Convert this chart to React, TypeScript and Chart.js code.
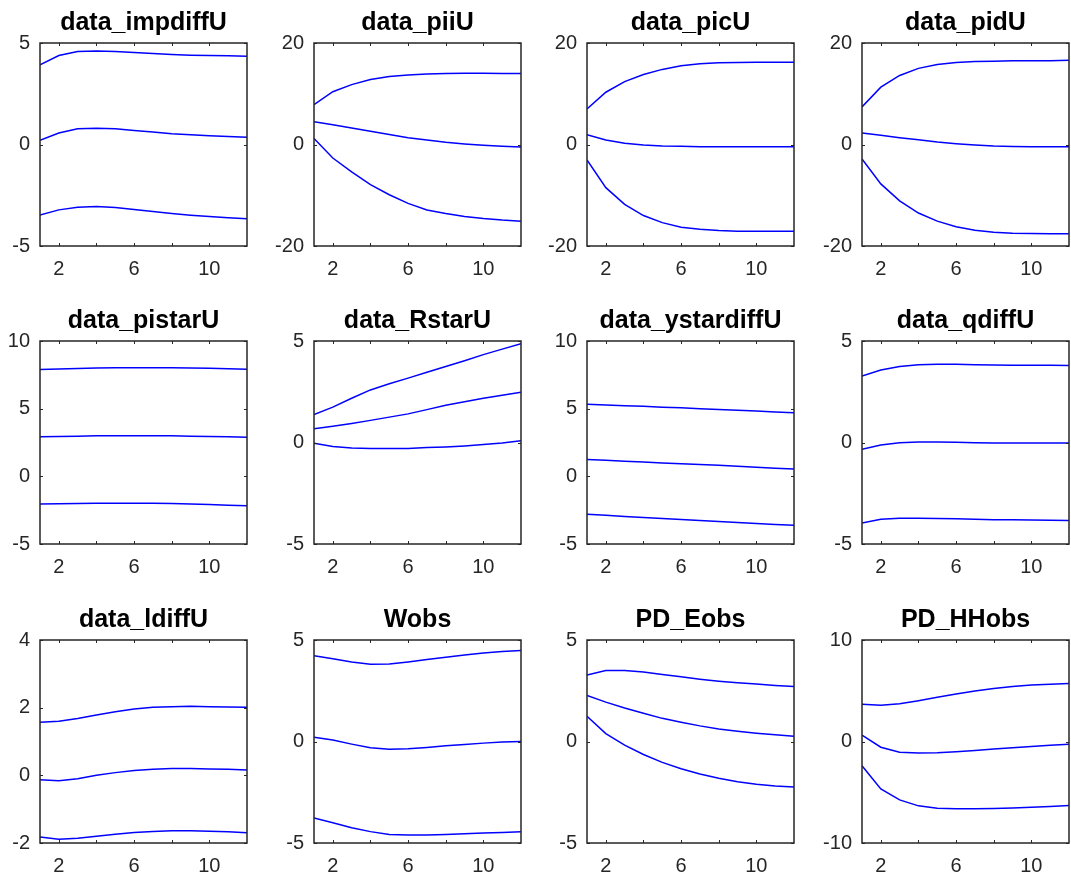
import React, { useEffect, useRef } from 'react';
import { Chart, registerables } from 'chart.js';

Chart.register(...registerables);

// ---------- data ----------
const steps = [1, 2, 3, 4, 5, 6, 7, 8, 9, 10, 11, 12];
const xTickValues = [2, 4, 6, 8, 10];
const xLabelValues = [2, 6, 10];

const titles = [
  'data_impdiffU', 'data_piiU', 'data_picU', 'data_pidU',
  'data_pistarU', 'data_RstarU', 'data_ystardiffU', 'data_qdiffU',
  'data_ldiffU', 'Wobs', 'PD_Eobs', 'PD_HHobs',
];
const yMins = [-5, -20, -20, -20, -5, -5, -5, -5, -2, -5, -5, -10];
const yMaxs = [5, 20, 20, 20, 10, 5, 10, 5, 4, 5, 5, 10];
const ySteps = [5, 20, 20, 20, 5, 5, 5, 5, 2, 5, 5, 10];

const impdiffUUpper = [3.92, 4.38, 4.58, 4.61, 4.58, 4.53, 4.48, 4.43, 4.40, 4.38, 4.37, 4.35];
const impdiffUMedian = [0.21, 0.57, 0.77, 0.80, 0.77, 0.69, 0.61, 0.53, 0.48, 0.43, 0.39, 0.36];
const impdiffULower = [-3.48, -3.22, -3.09, -3.05, -3.10, -3.20, -3.30, -3.40, -3.48, -3.55, -3.61, -3.66];

const piiUUpper = [7.86, 10.4, 11.8, 12.8, 13.4, 13.7, 13.9, 14.0, 14.05, 14.05, 14.0, 14.0];
const piiUMedian = [4.5, 3.9, 3.25, 2.6, 1.95, 1.35, 0.9, 0.43, 0.1, -0.16, -0.36, -0.5];
const piiULower = [1.2, -2.66, -5.4, -7.9, -9.9, -11.6, -12.9, -13.6, -14.2, -14.6, -14.9, -15.1];

const picUUpper = [7.0, 10.3, 12.4, 13.8, 14.8, 15.5, 15.9, 16.1, 16.15, 16.2, 16.2, 16.2];
const picUMedian = [1.94, 0.9, 0.23, -0.1, -0.3, -0.36, -0.42, -0.43, -0.43, -0.43, -0.43, -0.43];
const picULower = [-3.06, -8.5, -11.8, -14.0, -15.4, -16.3, -16.7, -16.95, -17.1, -17.1, -17.1, -17.1];

const pidUUpper = [7.4, 11.3, 13.6, 15.0, 15.75, 16.15, 16.35, 16.4, 16.5, 16.5, 16.5, 16.6];
const pidUMedian = [2.27, 1.8, 1.35, 0.95, 0.5, 0.16, -0.1, -0.3, -0.4, -0.43, -0.43, -0.43];
const pidULower = [-2.86, -7.76, -11.1, -13.5, -15.1, -16.2, -16.9, -17.3, -17.5, -17.55, -17.6, -17.6];

const pistarUUpper = [7.9, 7.94, 7.97, 8.0, 8.02, 8.03, 8.03, 8.02, 8.0, 7.98, 7.95, 7.92];
const pistarUMedian = [2.93, 2.95, 2.97, 2.99, 3.0, 3.0, 3.0, 2.99, 2.97, 2.95, 2.92, 2.88];
const pistarULower = [-2.05, -2.03, -2.01, -1.99, -1.98, -1.98, -1.99, -2.01, -2.04, -2.08, -2.13, -2.18];

const RstarUUpper = [1.38, 1.74, 2.18, 2.59, 2.89, 3.17, 3.46, 3.74, 4.03, 4.33, 4.6, 4.87];
const RstarUMedian = [0.68, 0.8, 0.94, 1.09, 1.25, 1.41, 1.62, 1.84, 2.01, 2.18, 2.33, 2.47];
const RstarULower = [-0.04, -0.2, -0.27, -0.3, -0.3, -0.29, -0.25, -0.22, -0.17, -0.1, -0.02, 0.09];

const ystardiffUUpper = [5.33, 5.28, 5.22, 5.17, 5.11, 5.06, 5.0, 4.94, 4.88, 4.82, 4.76, 4.69];
const ystardiffUMedian = [1.25, 1.19, 1.12, 1.06, 0.99, 0.93, 0.87, 0.81, 0.74, 0.67, 0.6, 0.54];
const ystardiffULower = [-2.81, -2.88, -2.96, -3.04, -3.11, -3.19, -3.26, -3.33, -3.41, -3.48, -3.55, -3.62];

const qdiffUUpper = [3.27, 3.57, 3.74, 3.83, 3.86, 3.85, 3.83, 3.82, 3.81, 3.8, 3.8, 3.79];
const qdiffUMedian = [-0.33, -0.12, -0.01, 0.02, 0.02, 0.01, -0.01, -0.02, -0.03, -0.03, -0.03, -0.03];
const qdiffULower = [-3.97, -3.78, -3.73, -3.73, -3.74, -3.76, -3.78, -3.8, -3.81, -3.82, -3.83, -3.84];

const ldiffUUpper = [1.57, 1.6, 1.68, 1.78, 1.88, 1.96, 2.01, 2.03, 2.04, 2.03, 2.02, 2.01];
const ldiffUMedian = [-0.13, -0.16, -0.1, 0.0, 0.08, 0.14, 0.18, 0.2, 0.2, 0.19, 0.18, 0.16];
const ldiffULower = [-1.82, -1.89, -1.86, -1.8, -1.74, -1.69, -1.66, -1.64, -1.64, -1.65, -1.67, -1.7];

const WobsUpper = [4.22, 4.08, 3.92, 3.81, 3.82, 3.92, 4.04, 4.15, 4.26, 4.36, 4.43, 4.48];
const WobsMedian = [0.21, 0.07, -0.13, -0.31, -0.38, -0.36, -0.29, -0.21, -0.15, -0.08, -0.03, 0.0];
const WobsLower = [-3.77, -4.0, -4.25, -4.44, -4.58, -4.61, -4.61, -4.58, -4.54, -4.51, -4.48, -4.44];

const EobsUpper = [3.28, 3.5, 3.5, 3.42, 3.3, 3.19, 3.07, 2.97, 2.89, 2.83, 2.76, 2.71];
const EobsMedian = [2.27, 1.94, 1.65, 1.39, 1.14, 0.95, 0.77, 0.62, 0.51, 0.41, 0.33, 0.26];
const EobsLower = [1.24, 0.39, -0.18, -0.64, -1.03, -1.34, -1.6, -1.81, -1.98, -2.11, -2.19, -2.24];

const HHobsUpper = [3.66, 3.56, 3.73, 4.02, 4.35, 4.67, 4.97, 5.23, 5.42, 5.56, 5.65, 5.72];
const HHobsMedian = [0.62, -0.56, -1.05, -1.14, -1.11, -1.01, -0.88, -0.75, -0.62, -0.49, -0.36, -0.26];
const HHobsLower = [-2.39, -4.67, -5.75, -6.34, -6.57, -6.63, -6.63, -6.6, -6.54, -6.47, -6.41, -6.31];

const panelSeries = [
  [impdiffUUpper, impdiffUMedian, impdiffULower],
  [piiUUpper, piiUMedian, piiULower],
  [picUUpper, picUMedian, picULower],
  [pidUUpper, pidUMedian, pidULower],
  [pistarUUpper, pistarUMedian, pistarULower],
  [RstarUUpper, RstarUMedian, RstarULower],
  [ystardiffUUpper, ystardiffUMedian, ystardiffULower],
  [qdiffUUpper, qdiffUMedian, qdiffULower],
  [ldiffUUpper, ldiffUMedian, ldiffULower],
  [WobsUpper, WobsMedian, WobsLower],
  [EobsUpper, EobsMedian, EobsLower],
  [HHobsUpper, HHobsMedian, HHobsLower],
];

// ---------- layout ----------
const boxLefts = [40, 314, 587, 862];
const boxTops = [43, 341, 640];
const boxW = 207;
const boxH = 203;
const padL = 40;
const padT = 43;
const padR = 8;
const padB = 40;
const canvasW = padL + boxW + padR;
const canvasH = padT + boxH + padB;

const FONT = '"Liberation Sans", Arial, Helvetica, sans-serif';
const AXIS_COLOR = '#262626';
const LINE_COLOR = '#0000FF';
const TITLE_SIZE = 25;
const TICK_SIZE = 20;

const framePlugin = {
  id: 'matlabFrame',
  afterDraw(chart: any) {
    const { ctx, chartArea } = chart;
    const { left, top, right, bottom } = chartArea;
    const xs = chart.scales.x;
    const ys = chart.scales.y;
    ctx.save();
    ctx.strokeStyle = AXIS_COLOR;
    ctx.lineWidth = 1;
    const tl = 3;
    ctx.beginPath();
    xs.ticks.forEach((t: any) => {
      const px = Math.round(xs.getPixelForValue(t.value)) + 0.5;
      ctx.moveTo(px, bottom);
      ctx.lineTo(px, bottom - tl);
      ctx.moveTo(px, top);
      ctx.lineTo(px, top + tl);
    });
    ys.ticks.forEach((t: any) => {
      const py = Math.round(ys.getPixelForValue(t.value)) + 0.5;
      ctx.moveTo(left, py);
      ctx.lineTo(left + tl, py);
      ctx.moveTo(right, py);
      ctx.lineTo(right - tl, py);
    });
    ctx.stroke();
    ctx.lineWidth = 1.5;
    ctx.strokeRect(left, top, right - left, bottom - top);
    ctx.restore();
  },
};

function makeConfig(i: number) {
  const series = panelSeries[i];
  const yMin = yMins[i];
  const yMax = yMaxs[i];
  const yStep = ySteps[i];
  const titleLine = TITLE_SIZE * 1.2;
  const titleTop = 8;
  return {
    type: 'line' as const,
    data: {
      datasets: series.map((s) => ({
        data: steps.map((x, k) => ({ x, y: s[k] })),
        borderColor: LINE_COLOR,
        borderWidth: 1.5,
        pointRadius: 0,
        tension: 0,
        fill: false,
      })),
    },
    options: {
      responsive: false,
      maintainAspectRatio: false,
      animation: false as const,
      devicePixelRatio: 1,
      events: [] as any[],
      layout: { padding: { top: 0, left: 0, right: padR, bottom: 0 } },
      plugins: {
        legend: { display: false },
        tooltip: { enabled: false },
        title: {
          display: true,
          text: titles[i],
          fullSize: false,
          color: '#000000',
          font: { family: FONT, size: TITLE_SIZE, weight: 'bold' as const, lineHeight: 1.2 },
          padding: { top: titleTop, bottom: padT - titleTop - titleLine },
        },
      },
      scales: {
        x: {
          type: 'linear' as const,
          min: 1,
          max: 12,
          grid: { display: false, drawTicks: false },
          border: { display: false },
          afterBuildTicks: (scale: any) => {
            scale.ticks = xTickValues.map((v) => ({ value: v }));
          },
          afterFit: (scale: any) => {
            scale.height = padB;
          },
          ticks: {
            autoSkip: false,
            maxRotation: 0,
            padding: 11,
            color: AXIS_COLOR,
            font: { family: FONT, size: TICK_SIZE },
            callback: (v: any) => (xLabelValues.includes(Number(v)) ? String(v) : ''),
          },
        },
        y: {
          type: 'linear' as const,
          min: yMin,
          max: yMax,
          grid: { display: false, drawTicks: false },
          border: { display: false },
          afterBuildTicks: (scale: any) => {
            const t: any[] = [];
            for (let v = yMin; v <= yMax + 1e-9; v += yStep) t.push({ value: v });
            scale.ticks = t;
          },
          afterFit: (scale: any) => {
            scale.width = padL;
          },
          ticks: {
            autoSkip: false,
            padding: 10,
            color: AXIS_COLOR,
            font: { family: FONT, size: TICK_SIZE },
            callback: (v: any) => String(v),
          },
        },
      },
    },
    plugins: [framePlugin],
  };
}

export default function App() {
  const refs = useRef<(HTMLCanvasElement | null)[]>([]);

  useEffect(() => {
    const charts: Chart[] = [];
    refs.current.forEach((cv, i) => {
      if (cv) charts.push(new Chart(cv, makeConfig(i) as any));
    });
    return () => {
      charts.forEach((c) => c.destroy());
    };
  }, []);

  return (
    <div
      style={{
        position: 'absolute',
        left: 0,
        top: 0,
        width: 1071,
        height: 884,
        overflow: 'hidden',
        background: '#ffffff',
      }}
    >
      {titles.map((t, i) => {
        const r = Math.floor(i / 4);
        const c = i % 4;
        return (
          <canvas
            key={t}
            ref={(el) => {
              refs.current[i] = el;
            }}
            width={canvasW}
            height={canvasH}
            style={{
              position: 'absolute',
              left: boxLefts[c] - padL,
              top: boxTops[r] - padT,
              width: canvasW,
              height: canvasH,
            }}
          />
        );
      })}
    </div>
  );
}
